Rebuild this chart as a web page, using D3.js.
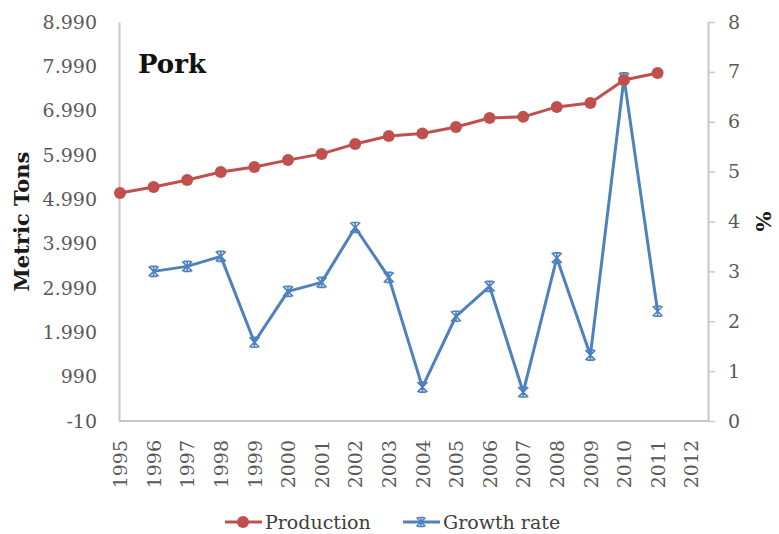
<!DOCTYPE html>
<html>
<head>
<meta charset="utf-8">
<script src="https://cdn.jsdelivr.net/npm/d3@7"></script>
<style>
  html, body { margin: 0; padding: 0; background: #fff; }
  svg { display: block; }
</style>
</head>
<body>
<svg id="chart" width="779" height="534"></svg>
<script>
// Pork production (metric tons) and annual growth rate (%)
const years = [1995, 1996, 1997, 1998, 1999, 2000, 2001, 2002, 2003, 2004, 2005, 2006, 2007, 2008, 2009, 2010, 2011];
const axisYears = [1995, 1996, 1997, 1998, 1999, 2000, 2001, 2002, 2003, 2004, 2005, 2006, 2007, 2008, 2009, 2010, 2011, 2012];
const production = [5135, 5270, 5425, 5605, 5720, 5875, 6015, 6240, 6420, 6475, 6620, 6825, 6850, 7075, 7165, 7680, 7840];
const growthYears = [1996, 1997, 1998, 1999, 2000, 2001, 2002, 2003, 2004, 2005, 2006, 2007, 2008, 2009, 2010, 2011];
const growthRate = [3.0, 3.1, 3.3, 1.58, 2.6, 2.78, 3.88, 2.88, 0.68, 2.1, 2.7, 0.58, 3.27, 1.32, 6.88, 2.2];
const leftTicks = [-10, 990, 1990, 2990, 3990, 4990, 5990, 6990, 7990, 8990];
const rightTicks = [0, 1, 2, 3, 4, 5, 6, 7, 8];

const svg = d3.select("#chart");
const font = "'DejaVu Serif', 'Liberation Serif', serif";
const red = "#C0504D", blue = "#4F81BD", axisCol = "#C8C8C8", textCol = "#595959";

const plot = { left: 119, right: 708, top: 22, bottom: 421 };

const x = d3.scaleLinear().domain([1995, 2012.5]).range([plot.left + 1, plot.right]);
const yL = d3.scaleLinear().domain([-10, 8990]).range([plot.bottom, plot.top]);
const yR = d3.scaleLinear().domain([0, 8]).range([plot.bottom, plot.top]);

const fmt = d => d3.format(",")(d).replace(/,/g, ".").replace("−", "-");

// Left axis
const gL = svg.append("g").attr("transform", `translate(${plot.left},0)`)
  .call(d3.axisLeft(yL).tickValues(leftTicks).tickSize(0).tickPadding(22).tickFormat(fmt));
gL.select(".domain").attr("stroke", axisCol).attr("stroke-width", 2);
gL.selectAll("text").attr("font-family", font).attr("font-size", 19).attr("fill", textCol);

// Right axis
const gR = svg.append("g").attr("transform", `translate(${plot.right},0)`)
  .call(d3.axisRight(yR).tickValues(rightTicks).tickSize(7).tickPadding(13).tickSizeOuter(0));
gR.select(".domain").attr("stroke", axisCol).attr("stroke-width", 2);
gR.selectAll(".tick line").attr("stroke", axisCol).attr("stroke-width", 1.5);
gR.selectAll("text").attr("font-family", font).attr("font-size", 19).attr("fill", textCol);

// Bottom axis
const gB = svg.append("g").attr("transform", `translate(0,${plot.bottom})`)
  .call(d3.axisBottom(x).tickValues(axisYears).tickSize(0).tickFormat(d3.format("d")));
gB.select(".domain").attr("stroke", axisCol).attr("stroke-width", 2)
  .attr("d", `M${plot.left},0H${plot.right}`);
gB.selectAll("text")
  .attr("font-family", font).attr("font-size", 19).attr("fill", textCol)
  .attr("transform", "rotate(-90)")
  .attr("text-anchor", "end")
  .attr("x", -19).attr("y", 0).attr("dy", "0.35em");

// Axis titles
svg.append("text")
  .attr("transform", `translate(22,${(plot.top + plot.bottom) / 2}) rotate(-90)`)
  .attr("text-anchor", "middle").attr("dy", "0.35em")
  .attr("font-family", font).attr("font-weight", "bold").attr("font-size", 21)
  .attr("fill", "#1a1a1a").text("Metric Tons");
svg.append("text")
  .attr("transform", `translate(764,${yR(4)}) rotate(-90)`)
  .attr("text-anchor", "middle").attr("dy", "0.35em")
  .attr("font-family", font).attr("font-weight", "bold").attr("font-size", 21)
  .attr("fill", "#1a1a1a").text("%");

// Chart title
svg.append("text")
  .attr("x", 138).attr("y", 73)
  .attr("font-family", font).attr("font-weight", "bold").attr("font-size", 26)
  .attr("fill", "#111").text("Pork");

// Growth rate series (right axis)
const lineR = d3.line().x((d, i) => x(growthYears[i])).y(d => yR(d));
svg.append("path").datum(growthRate)
  .attr("d", lineR).attr("fill", "none").attr("stroke", blue).attr("stroke-width", 3)
  .attr("stroke-linejoin", "round");

function starPath(s) {
  return `M${-s},${-s}L${s},${s}M${-s},${s}L${s},${-s}M0,${-s}L0,${s}M${-s * 0.7},${-s}H${s * 0.7}M${-s * 0.7},${s}H${s * 0.7}`;
}
svg.append("g").selectAll("path").data(growthRate).join("path")
  .attr("transform", (d, i) => `translate(${x(growthYears[i])},${yR(d)})`)
  .attr("d", starPath(5)).attr("fill", "none").attr("stroke", blue).attr("stroke-width", 1.6);

// Production series (left axis)
const lineL = d3.line().x((d, i) => x(years[i])).y(d => yL(d));
svg.append("path").datum(production)
  .attr("d", lineL).attr("fill", "none").attr("stroke", red).attr("stroke-width", 3)
  .attr("stroke-linejoin", "round");
svg.append("g").selectAll("circle").data(production).join("circle")
  .attr("cx", (d, i) => x(years[i])).attr("cy", d => yL(d))
  .attr("r", 6).attr("fill", red);

// Legend
const legend = svg.append("g").attr("font-family", font).attr("font-size", 19).attr("fill", "#404040");
const ly = 522;
legend.append("line").attr("x1", 225).attr("x2", 262).attr("y1", ly).attr("y2", ly)
  .attr("stroke", red).attr("stroke-width", 3);
legend.append("circle").attr("cx", 243).attr("cy", ly).attr("r", 6).attr("fill", red);
legend.append("text").attr("x", 265).attr("y", ly).attr("dy", "0.35em").text("Production");
legend.append("line").attr("x1", 403).attr("x2", 440).attr("y1", ly).attr("y2", ly)
  .attr("stroke", blue).attr("stroke-width", 3);
legend.append("path").attr("transform", `translate(421,${ly})`).attr("d", starPath(4.5))
  .attr("fill", "none").attr("stroke", blue).attr("stroke-width", 1.6);
legend.append("text").attr("x", 443).attr("y", ly).attr("dy", "0.35em").text("Growth rate");
</script>
</body>
</html>
